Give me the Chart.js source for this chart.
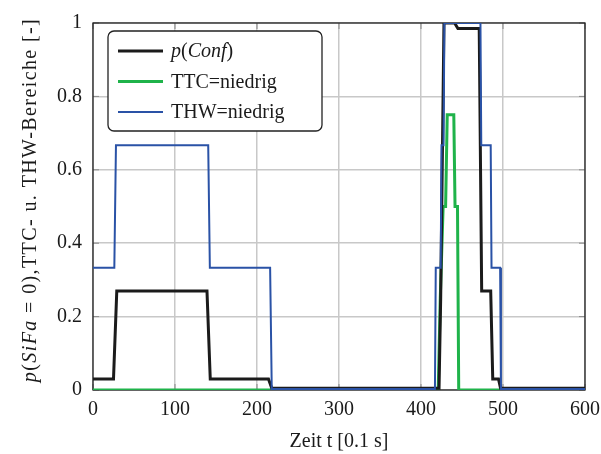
<!DOCTYPE html>
<html>
<head>
<meta charset="utf-8">
<script src="https://cdn.jsdelivr.net/npm/chart.js@4.4.1/dist/chart.umd.min.js"></script>
<style>
  html, body { margin: 0; padding: 0; background: #fff; }
  #myChart { display: block; }
</style>
</head>
<body>
<canvas id="myChart" width="601" height="454"></canvas>
<script>
// series values
const confT = [0, 25, 29, 139, 143, 214, 218, 422, 424, 428, 441, 445, 471, 474, 485, 487.5, 494.5, 497, 600];
const confP = [0.03, 0.03, 0.27, 0.27, 0.03, 0.03, 0.005, 0.005, 0.25, 1.0, 1.0, 0.985, 0.985, 0.27, 0.27, 0.03, 0.03, 0.005, 0.005];

const ttcT = [0, 421, 423.5, 427, 430, 432, 440, 441.5, 444.5, 446, 600];
const ttcP = [0, 0, 0.25, 0.5, 0.5, 0.75, 0.75, 0.5, 0.5, 0, 0];

const thwT = [0, 26, 28, 140.5, 142.5, 216, 218, 417, 418, 424, 425, 427.5, 428.5, 472.5, 473.5, 485, 486, 496.5, 497.5, 600];
const thwP = [0.333, 0.333, 0.667, 0.667, 0.333, 0.333, 0.003, 0.003, 0.333, 0.333, 0.667, 0.667, 1, 1, 0.667, 0.667, 0.333, 0.333, 0.003, 0.003];

// tick labels
const xTicks = [0, 100, 200, 300, 400, 500, 600];
const xTickLabels = ['0', '100', '200', '300', '400', '500', '600'];
const yTicks = [0, 0.2, 0.4, 0.6, 0.8, 1];
const yTickLabels = ['0', '0.2', '0.4', '0.6', '0.8', '1'];

const seriesLabels = ['p(Conf)', 'TTC=niedrig', 'THW=niedrig'];
// italic parts for legend / axis title (1 = italic)
const legendParts = [
    [['p', 1], ['(', 0], ['Conf', 1], [')', 0]],
    [['TTC=niedrig', 0]],
    [['THW=niedrig', 0]]
];
const yTitleParts = [['p', 1], ['(', 0], ['SiFa', 1], [' = 0),TTC- u. THW-Bereiche [-]', 0]];
const xTitle = 'Zeit t [0.1 s]';

const FONT = '"Liberation Serif", "Times New Roman", serif';
const FSIZE = 20;

function toPoints(ts, ps) {
    return ts.map((t, i) => ({ x: t, y: ps[i] }));
}

function drawParts(ctx, parts, x, y) {
    for (const [txt, it] of parts) {
        ctx.font = (it ? 'italic ' : '') + FSIZE + 'px ' + FONT;
        ctx.fillText(txt, x, y);
        x += ctx.measureText(txt).width;
    }
}

function partsWidth(ctx, parts) {
    let w = 0;
    for (const [txt, it] of parts) {
        ctx.font = (it ? 'italic ' : '') + FSIZE + 'px ' + FONT;
        w += ctx.measureText(txt).width;
    }
    return w;
}

// frame, inner tick marks, legend box, rotated y title
const extras = {
    id: 'extras',
    beforeDatasetsDraw(chart) {
        const ctx = chart.ctx;
        const a = chart.chartArea;
        const xs = chart.scales.x, ys = chart.scales.y;
        ctx.save();
        ctx.strokeStyle = '#8a8a8a';
        ctx.lineWidth = 1;
        xTicks.forEach(v => {
            const px = xs.getPixelForValue(v);
            ctx.beginPath();
            ctx.moveTo(px, a.bottom); ctx.lineTo(px, a.bottom - 6);
            ctx.moveTo(px, a.top); ctx.lineTo(px, a.top + 6);
            ctx.stroke();
        });
        yTicks.forEach(v => {
            const py = ys.getPixelForValue(v);
            ctx.beginPath();
            ctx.moveTo(a.left, py); ctx.lineTo(a.left + 6, py);
            ctx.moveTo(a.right, py); ctx.lineTo(a.right - 6, py);
            ctx.stroke();
        });
        ctx.strokeStyle = '#222';
        ctx.lineWidth = 1.3;
        ctx.strokeRect(a.left, a.top, a.right - a.left, a.bottom - a.top);
        ctx.restore();
    },
    afterDatasetsDraw(chart) {
        const ctx = chart.ctx;
        ctx.save();
        // legend box
        const bx = 108, by = 31, bw = 214, bh = 100;
        ctx.beginPath();
        ctx.roundRect(bx, by, bw, bh, 6);
        ctx.fillStyle = '#fff';
        ctx.fill();
        ctx.strokeStyle = '#222';
        ctx.lineWidth = 1.3;
        ctx.stroke();
        ctx.textBaseline = 'middle';
        ctx.textAlign = 'left';
        chart.data.datasets.forEach((ds, i) => {
            const ly = 51 + i * 30.5;
            ctx.strokeStyle = ds.borderColor;
            ctx.lineWidth = ds.borderWidth;
            ctx.beginPath();
            ctx.moveTo(118, ly);
            ctx.lineTo(163, ly);
            ctx.stroke();
            ctx.fillStyle = '#1a1a1a';
            drawParts(ctx, legendParts[i], 171, ly + 1);
        });
        // y axis title
        ctx.translate(31, 200);
        ctx.rotate(-Math.PI / 2);
        ctx.letterSpacing = '1.4px';
        const w = partsWidth(ctx, yTitleParts);
        drawParts(ctx, yTitleParts, -w / 2, 0);
        ctx.restore();
    }
};

const ctx = document.getElementById('myChart').getContext('2d');
const myChart = new Chart(ctx, {
    type: 'line',
    data: {
        datasets: [{
            label: seriesLabels[0],
            data: toPoints(confT, confP),
            borderColor: '#1b1b1b',
            borderWidth: 3,
            order: 1
        }, {
            label: seriesLabels[1],
            data: toPoints(ttcT, ttcP),
            borderColor: '#1fb34a',
            borderWidth: 3,
            order: 2
        }, {
            label: seriesLabels[2],
            data: toPoints(thwT, thwP),
            borderColor: '#2a52a6',
            borderWidth: 2,
            order: 0
        }]
    },
    options: {
        responsive: false,
        animation: false,
        devicePixelRatio: 1,
        elements: {
            point: { radius: 0 },
            line: { tension: 0, fill: false, borderJoinStyle: 'miter' }
        },
        layout: { padding: { left: 0, right: 16, top: 20, bottom: 0 } },
        plugins: {
            legend: { display: false },
            tooltip: { enabled: false }
        },
        scales: {
            x: {
                type: 'linear',
                min: 0,
                max: 600,
                afterBuildTicks: s => { s.ticks = xTicks.map(v => ({ value: v })); },
                afterFit: s => { s.height = 64; s.paddingRight = 0; s.paddingLeft = 0; },
                ticks: {
                    autoSkip: false,
                    maxRotation: 0,
                    padding: 8,
                    color: '#1a1a1a',
                    font: { family: FONT, size: FSIZE },
                    callback: (v, i) => xTickLabels[i]
                },
                grid: { color: '#c8c8c8', lineWidth: 1.5, drawTicks: false },
                border: { display: false },
                title: {
                    display: true,
                    text: xTitle,
                    color: '#1a1a1a',
                    font: { family: FONT, size: FSIZE },
                    padding: { top: 0, bottom: 0 }
                }
            },
            y: {
                min: 0,
                max: 1,
                afterBuildTicks: s => { s.ticks = yTicks.map(v => ({ value: v })); },
                afterFit: s => { s.width = 93; },
                ticks: {
                    padding: 11,
                    color: '#1a1a1a',
                    font: { family: FONT, size: FSIZE },
                    callback: (v, i) => yTickLabels[i]
                },
                grid: { color: '#c8c8c8', lineWidth: 1.5, drawTicks: false },
                border: { display: false }
            }
        }
    },
    plugins: [extras]
});
</script>
</body>
</html>
